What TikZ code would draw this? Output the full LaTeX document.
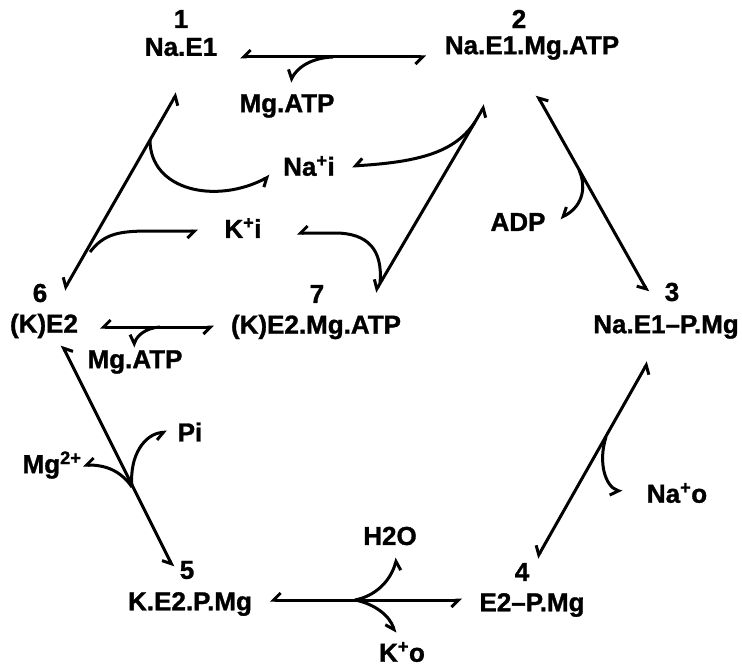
\documentclass[tikz,border=0pt]{standalone}
\usepackage{fontspec}
\setmainfont{Liberation Sans}[BoldFeatures={FakeBold=1.2}]
\usetikzlibrary{arrows.meta}
\begin{document}
\begin{tikzpicture}[x=1pt,y=-1pt,
  lbl/.style={font=\bfseries\fontsize{26}{27}\selectfont, inner sep=0pt, anchor=center},
  tipa/.tip={Straight Barb[harpoon,swap,length=7pt,width=14pt]},
  rx/.style={line width=3pt, tipa-tipa},
  br/.style={line width=3pt, -tipa},
]
\useasboundingbox (0,0) rectangle (742,666);

% labels
\node[lbl] (n1num) at (181,19) {1};
\node[lbl] (n1) at (181,47) {Na.E1};
\node[lbl] (n2num) at (519,19) {2};
\node[lbl] (n2) at (532,48) {Na.E1.Mg.ATP};
\node[lbl] (n3num) at (672,292) {3};
\node[lbl] (n3) at (666,327) {Na.E1--P.Mg};
\node[lbl] (n4num) at (522,572) {4};
\node[lbl] (n4) at (532,605) {E2--P.Mg};
\node[lbl] (n5num) at (187,570) {5};
\node[lbl] (n5) at (190,604) {K.E2.P.Mg};
\node[lbl] (n6num) at (40,293) {6};
\node[lbl] (n6) at (44,326) {(K)E2};
\node[lbl] (n7num) at (317,294) {7};
\node[lbl] (n7) at (316,327) {(K)E2.Mg.ATP};

\node[lbl] (mgatpA) at (287,106) {Mg.ATP};
\node[lbl] (mgatpB) at (135,362) {Mg.ATP};
\node[lbl] (nai) at (309,166) {Na\textsuperscript{+}i};
\node[lbl] (ki) at (243,228) {K\textsuperscript{+}i};
\node[lbl] (adp) at (518,222) {ADP};
\node[lbl] (nao) at (677,493) {Na\textsuperscript{+}o};
\node[lbl] (hho) at (390,536) {H2O};
\node[lbl] (ko) at (402,652) {K\textsuperscript{+}o};
\node[lbl] (pi) at (190,432) {Pi};
\node[lbl] (mg) at (52,465) {Mg\textsuperscript{2+}};

% end points of reaction arrows
\coordinate (a12) at (240,57);
\coordinate (b12) at (426,57);
\coordinate (a16) at (177,93);
\coordinate (b16) at (64,290);
\coordinate (a27) at (485,105);
\coordinate (b27) at (375,292);
\coordinate (a23) at (537,95);
\coordinate (b23) at (648,292);
\coordinate (a67) at (100,327);
\coordinate (b67) at (214,327);
\coordinate (a34) at (648,362);
\coordinate (b34) at (537,558);
\coordinate (a45) at (462,600);
\coordinate (b45) at (270,600);
\coordinate (a56) at (62,345);
\coordinate (b56) at (173,567);

% branch points
\coordinate (p12) at (333,57);
\coordinate (p16a) at (150,140);
\coordinate (p16b) at (90,252);
\coordinate (p27a) at (475,122);
\coordinate (p27b) at (380,283);
\coordinate (p23) at (579,170);
\coordinate (p67) at (160,327);
\coordinate (p34) at (606,437);
\coordinate (p45) at (355,600);
\coordinate (p56) at (132,487);

% tips of branches
\coordinate (t12) at (290,82);
\coordinate (t16a) at (270,176);
\coordinate (t16b) at (198,231);
\coordinate (t27a) at (352,166);
\coordinate (t27b) at (297,233);
\coordinate (t23) at (560,218);
\coordinate (t67) at (133,347);
\coordinate (t34) at (622,492);
\coordinate (t45a) at (397,558);
\coordinate (t45b) at (395,633);
\coordinate (t56a) at (83,465);
\coordinate (t56b) at (167,432);

% reaction arrows
\draw[rx] (a12) -- (b12);
\draw[rx] (a16) -- (b16);
\draw[rx] (a27) -- (b27);
\draw[rx] (a23) -- (b23);
\draw[rx] (b67) -- (a67);
\draw[rx] (a34) -- (b34);
\draw[rx] (a45) -- (b45);
\draw[rx] (a56) -- (b56);

% branches
\draw[br] (p12) .. controls (308,58) and (296,70) .. (t12);
\draw[br] (p16a) .. controls (150,190) and (215,205) .. (t16a);
\draw[br] (p16b) .. controls (104,234) and (118,231) .. (150,231) -- (t16b);
\draw[br] (p27a) .. controls (455,152) and (420,162) .. (t27a);
\draw[br] (p27b) .. controls (383,250) and (368,233) .. (335,233) -- (t27b);
\draw[br] (p23) .. controls (588,190) and (580,208) .. (t23);
\draw[br] (p67) .. controls (145,328) and (137,336) .. (t67);
\draw[br] (p34) .. controls (598,462) and (605,486) .. (t34);
\draw[br] (p45) .. controls (375,596) and (390,582) .. (t45a);
\draw[br] (p45) .. controls (375,604) and (390,616) .. (t45b);
\draw[br] (p56) .. controls (120,470) and (105,465) .. (t56a);
\draw[br] (p56) .. controls (129,455) and (145,434) .. (t56b);
\end{tikzpicture}
\end{document}
